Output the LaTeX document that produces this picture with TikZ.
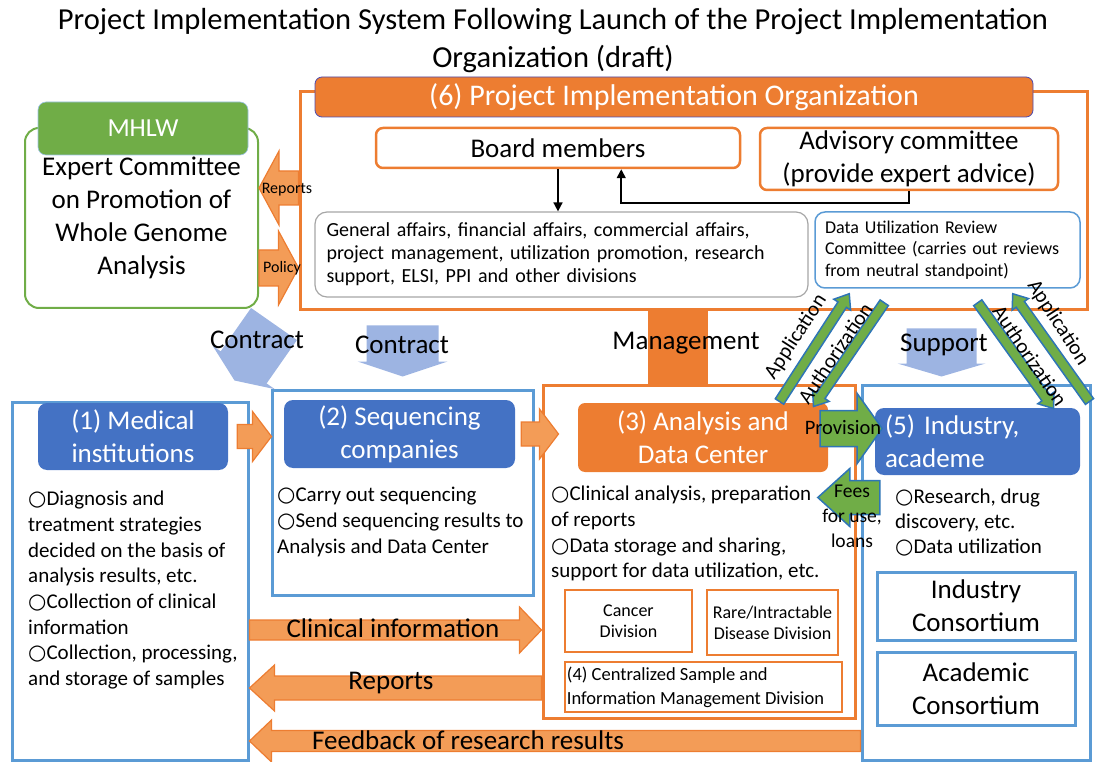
\documentclass[tikz,border=0pt]{standalone}
\usepackage{fontspec}
\setmainfont{Carlito}
\newfontfamily\symfont{DejaVu Sans}
\usetikzlibrary{calc,arrows.meta}

\definecolor{orgOrange}{HTML}{ED7D31}
\definecolor{arrOrange}{HTML}{F39C57}
\definecolor{hdBlue}{HTML}{4472C4}
\definecolor{lnBlue}{HTML}{5B9BD5}
\definecolor{mhGreen}{HTML}{70AD47}
\definecolor{ctBlue}{HTML}{9DB4E2}
\definecolor{edBlue}{HTML}{2E75B6}

\newcommand{\bul}{{\symfont ○}}
%% block arrow: [style]{from}{to}{shaft half width}{head half width}{head length}
\newcommand{\blockArrow}[6][]{%
  \coordinate (ba) at #2;
  \coordinate (bb) at #3;
  \coordinate (bh) at ($(bb)!#6pt!(ba)$);
  \filldraw[#1] ($(ba)!#4pt!90:(bb)$) -- ($(bh)!#4pt!90:(bb)$)
    -- ($(bh)!#5pt!90:(bb)$) -- (bb) -- ($(bh)!#5pt!-90:(bb)$)
    -- ($(bh)!#4pt!-90:(bb)$) -- ($(ba)!#4pt!-90:(bb)$) -- cycle;
}

\begin{document}
\begin{tikzpicture}
[x=1pt,y=-1pt,
  bigFont/.style={font=\fontsize{27}{33}\selectfont},
  orangeLine/.style={draw=orgOrange,line width=2.5pt},
  blueLine/.style={draw=lnBlue,line width=3pt},
  headOrange/.style={fill=orgOrange,rounded corners=7pt,text=white,align=center,inner sep=1pt,bigFont},
  headBlue/.style={fill=hdBlue,rounded corners=9pt,text=white,align=center,inner sep=1pt,bigFont},
  bulletText/.style={anchor=north west,inner sep=0pt,align=left,font=\fontsize{21}{25.7}\selectfont},
  orangeArrow/.style={fill=arrOrange,draw=orgOrange,line width=1.2pt},
  greenArrow/.style={fill=mhGreen,draw=edBlue,line width=1.5pt},
  blueArrow/.style={fill=ctBlue,draw=none},
  blackArrow/.style={-{Triangle[length=9pt,width=9pt]},line width=1.6pt},
  diagText/.style={font=\fontsize{21}{24}\selectfont,inner sep=1pt}]
\useasboundingbox (0,0) rectangle (1096,762);

%% title
\node[font=\fontsize{30.5}{38}\selectfont,align=center] (title) at (553,41)
  {Project Implementation System Following Launch of the Project Implementation\\Organization (draft)};

%% (6) project implementation organization
\node[draw=orgOrange,line width=3pt,minimum width=787,minimum height=218] (org) at (693.5,201) {};
\node[headOrange,draw=gray!60!blue,line width=0.8pt,minimum width=718,minimum height=40,
  font=\fontsize{30}{36}\selectfont] (orgHead) at (674,97) {(6) Project Implementation Organization};
\node[orangeLine,rounded corners=7pt,minimum width=364,minimum height=40,inner sep=1pt,bigFont]
  (board) at (558,148) {Board members};
\node[orangeLine,rounded corners=7pt,minimum width=298,minimum height=62,inner sep=0pt,align=center,bigFont]
  (advisory) at (909,159) {Advisory committee\\(provide expert advice)};
\node[draw=gray!70,line width=1.2pt,rounded corners=12pt,minimum width=493,minimum height=85,
  text width=470,align=left,inner sep=0pt,font=\fontsize{20}{23}\selectfont] (gen) at (561.5,254.5)
  {General affairs, financial affairs, commercial affairs,\\project management, utilization promotion, research\\support, ELSI, PPI and other divisions};
\node[draw=lnBlue,line width=1.5pt,rounded corners=10pt,minimum width=265,minimum height=76,
  text width=245,align=left,inner sep=0pt,font=\fontsize{18}{21.5}\selectfont] (dur) at (947.5,250)
  {Data Utilization Review\\Committee (carries out reviews\\from neutral standpoint)};
\draw[blackArrow] (board.south) -- (board.south |- gen.north);
\draw[blackArrow] (advisory.south) -- ++(0,12) -| ($(board.south east)+(-120,0)$);

%% MHLW
\node[draw=mhGreen,line width=2pt,rounded corners=14pt,minimum width=233,minimum height=180,
  align=center,inner sep=0pt,bigFont] (exp) at (141.5,218)
  {Expert Committee\\on Promotion of\\Whole Genome\\Analysis};
\node[fill=mhGreen,draw=lnBlue!60,line width=0.6pt,rounded corners=8pt,minimum width=210,minimum height=53,
  text=white,font=\fontsize{26}{30}\selectfont] (mhlw) at (143,128.5) {MHLW};

%% (1) medical institutions
\node[blueLine,minimum width=236,minimum height=358] (med) at (130,581) {};
\node[headBlue,minimum width=190,minimum height=67] (h1) at (133,436.5) {(1) Medical\\institutions};
\node[bulletText] (medTxt) at (28,491) {\bul Diagnosis and\\treatment strategies\\decided on the basis of\\analysis results, etc.\\\bul Collection of clinical\\information\\\bul Collection, processing,\\and storage of samples};

%% (2) sequencing companies
\node[blueLine,minimum width=261,minimum height=205] (seq) at (402.5,492.5) {};
\node[headBlue,minimum width=231,minimum height=68] (h2) at (399.5,434) {(2) Sequencing\\companies};
\node[bulletText] (seqTxt) at (277,487) {\bul Carry out sequencing\\\bul Send sequencing results to\\Analysis and Data Center};

%% (3) analysis and data center
\node[draw=orgOrange,line width=3pt,minimum width=312,minimum height=333] (adc) at (699,551.5) {};
\fill[orgOrange] (org.south -| 648,0) rectangle (adc.north -| 708,0);
\node[headOrange,minimum width=250,minimum height=69] (h3) at (703,437.5) {(3) Analysis and\\Data Center};
\node[bulletText] (adcTxt) at (551,486) {\bul Clinical analysis, preparation\\of reports\\\bul Data storage and sharing,\\support for data utilization, etc.};
\node[orangeLine,minimum width=127,minimum height=62,align=center,inner sep=1pt,
  font=\fontsize{18}{21}\selectfont] (cancer) at (628.5,621) {Cancer\\Division};
\node[orangeLine,minimum width=131,minimum height=65,align=center,inner sep=1pt,
  font=\fontsize{18}{21}\selectfont] (rare) at (772.5,622.5) {Rare/Intractable\\Disease Division};
\node[orangeLine,minimum width=277,minimum height=50] (div4) at (703.5,687) {};
\node[anchor=west,align=left,inner sep=0pt,font=\fontsize{18.5}{24}\selectfont] (div4Txt)
  at ($(div4.west)+(3,0)$) {(4) Centralized Sample and\\Information Management Division};

%% (5) industry, academe
\node[blueLine,minimum width=228,minimum height=375] (ind) at (976,572.5) {};
\node[headBlue,minimum width=205,minimum height=67,text width=185,align=left] (h5) at (977.5,441.5) {(5) Industry,\\academe};
\node[bulletText,font=\fontsize{21}{25}\selectfont] (indTxt) at (895,489) {\bul Research, drug\\discovery, etc.\\\bul Data utilization};
\node[blueLine,minimum width=198,minimum height=68,align=center,inner sep=0pt,bigFont] (indCons) at (976,606) {Industry\\Consortium};
\node[blueLine,minimum width=198,minimum height=73,align=center,inner sep=0pt,bigFont] (acaCons) at (976,688.5) {Academic\\Consortium};

%% blue arrows
\blockArrow[blueArrow]{($(exp.south east)+(15,15)$)}{($(med.north east)+(-15,-20)$)}{28}{38}{16}
\blockArrow[blueArrow]{($(seq.north)+(0,-63)$)}{($(seq.north)+(0,-12)$)}{36}{45}{15}
\blockArrow[blueArrow]{($(ind.north west)+(81,-55)$)}{($(ind.north west)+(81,-7)$)}{35}{44}{13}
\node[bigFont] (ctr1Txt) at (257,340) {Contract};
\node[bigFont] (ctr2Txt) at (402,345) {Contract};
\node[bigFont] (supTxt) at (944,345) {Support};
\node[bigFont] (mgmtTxt) at (686,343) {Management};

%% orange arrows
\blockArrow[orangeArrow]{(org.west |- 0,188)}{(exp.east |- 0,188)}{17}{37}{20}
\blockArrow[orangeArrow]{(exp.east |- 0,268)}{(org.west |- 0,268)}{18}{37}{20}
\node[font=\fontsize{16}{18}\selectfont] (repTopTxt) at (287,190) {Reports};
\node[font=\fontsize{16}{18}\selectfont] (polTxt) at (282,268) {Policy};
\blockArrow[orangeArrow]{($(h1.east)+(9,0)$)}{($(seq.west |- h1.east)+(1,0)$)}{12}{25}{19}
\blockArrow[orangeArrow]{($(h2.east)+(6,0)$)}{($(adc.west |- h2.east)+(17,0)$)}{12}{25}{19}
\blockArrow[orangeArrow]{(med.east |- 0,630)}{(adc.west |- 0,630)}{10}{23}{22}
\node[bigFont] (clinTxt) at (393,628) {Clinical information};
\blockArrow[orangeArrow]{(adc.west |- 0,688)}{(med.east |- 0,688)}{12}{23}{25}
\node[bigFont] (repTxt) at (391,683) {Reports};
\blockArrow[orangeArrow]{(ind.west |- 0,741)}{(med.east |- 0,741)}{10.5}{21}{22}
\node[bigFont] (feedTxt) at (468,740) {Feedback of research results};

%% green arrows
\blockArrow[greenArrow]{($(h3.east)+(-8,-9)$)}{($(h3.east)+(54,-9)$)}{18}{35}{25}
\node[font=\fontsize{20.5}{24}\selectfont] (provTxt) at (843,428) {Provision};
\blockArrow[greenArrow]{($(h5.west)+(5,56)$)}{($(h5.west)+(-57,56)$)}{17}{29}{32}
\node[align=center,font=\fontsize{19.5}{25}\selectfont] (feesTxt) at (852,516) {Fees\\for use,\\loans};
\coordinate (appLa) at ($(adc.north east)+(-77,18)$);
\coordinate (appLb) at ($(dur.south west)+(35,5)$);
\coordinate (autLa) at ($(dur.south west)+(70,14)$);
\coordinate (autLb) at ($(adc.north east)+(-43,23)$);
\coordinate (autRa) at ($(dur.south east)+(-103,14)$);
\coordinate (autRb) at ($(ind.north east)+(-38,25)$);
\coordinate (appRa) at ($(ind.north east)+(-2,18)$);
\coordinate (appRb) at ($(dur.south east)+(-68,5)$);
\foreach \startnode/\endnode in {appLa/appLb, autLa/autLb, autRa/autRb, appRa/appRb}
{
  \blockArrow[greenArrow]{(\startnode)}{(\endnode)}{5}{10}{13}
}
\node[diagText,rotate=57] (appLTxt) at (796,337) {Application};
\node[diagText,rotate=56] (autLTxt) at (835,353) {Authorization};
\node[diagText,rotate=-56] (autRTxt) at (1030,356) {Authorization};
\node[diagText,rotate=-57] (appRTxt) at (1058,323) {Application};
\end{tikzpicture}
\end{document}
